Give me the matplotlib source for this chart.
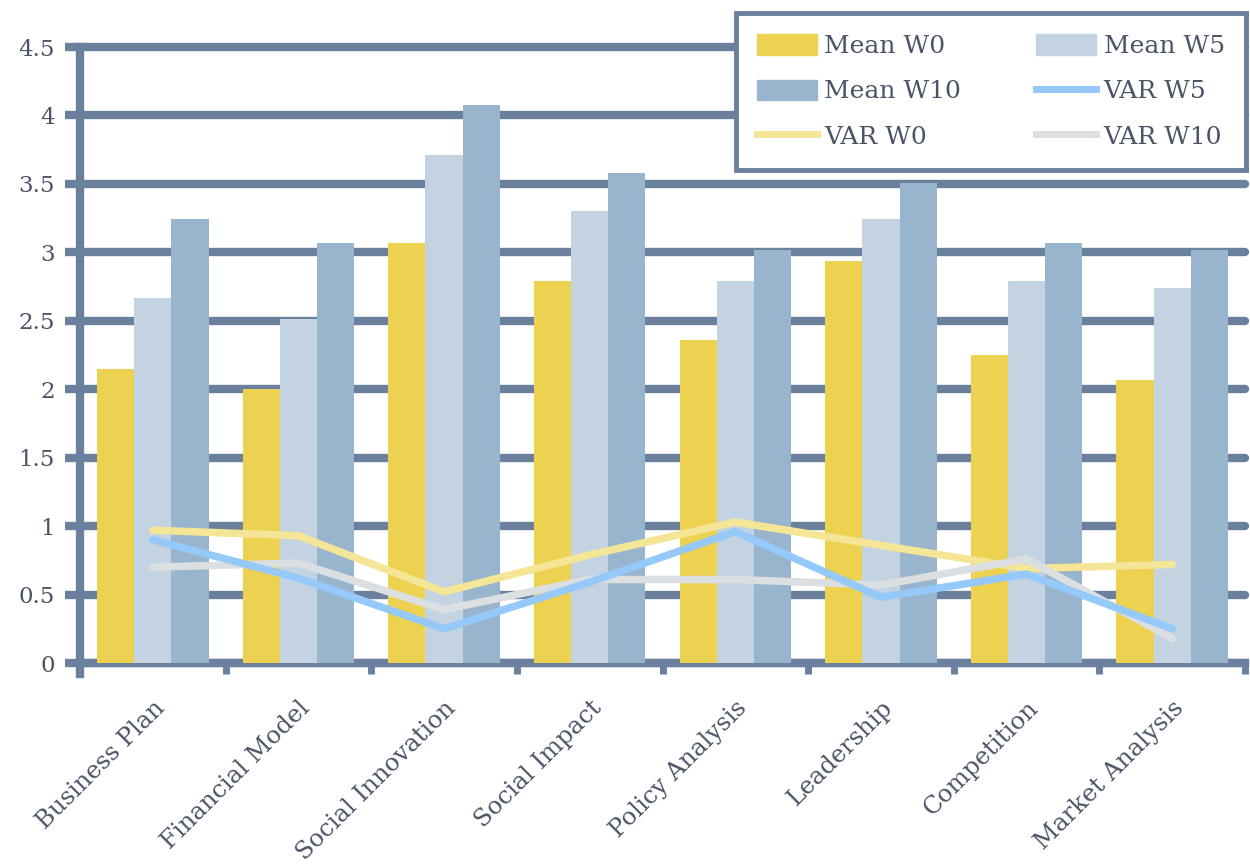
import matplotlib
matplotlib.use("Agg")
import matplotlib.pyplot as plt
import numpy as np
from matplotlib.patches import Patch
from matplotlib.lines import Line2D

# ====== Data ======
categories = [
    "Business Plan", "Financial Model", "Social Innovation", "Social Impact",
    "Policy Analysis", "Leadership", "Competition", "Market Analysis",
]
mean_w0 = [2.15, 2.00, 3.07, 2.79, 2.36, 2.94, 2.25, 2.07]
mean_w5 = [2.67, 2.51, 3.71, 3.30, 2.79, 3.24, 2.79, 2.74]
mean_w10 = [3.24, 3.07, 4.08, 3.58, 3.02, 3.51, 3.07, 3.02]
var_w0 = [0.97, 0.93, 0.52, 0.79, 1.03, 0.86, 0.69, 0.72]
var_w5 = [0.90, 0.62, 0.25, 0.59, 0.96, 0.48, 0.65, 0.25]
var_w10 = [0.70, 0.73, 0.39, 0.61, 0.61, 0.57, 0.76, 0.18]
y_ticks = [0, 0.5, 1, 1.5, 2, 2.5, 3, 3.5, 4, 4.5]

# ====== Style ======
AXIS_COLOR = "#6A809D"
TEXT_COLOR = "#4A5466"
C_W0, C_W5, C_W10 = "#EDD251", "#C3D3E2", "#99B4CD"
L_W0, L_W5, L_W10 = "#F5E596", "#94C9FA", "#DCDFE2"
FONT = ["DejaVu Serif"]

plt.rcParams["font.family"] = FONT

fig = plt.figure(figsize=(12.5, 8.66), dpi=100)
ax = fig.add_axes([0.064, 0.2344, 0.932, 0.7113])

x = np.arange(len(categories))
width = 0.255

ax.bar(x - width, mean_w0, width, color=C_W0, zorder=3)
ax.bar(x, mean_w5, width, color=C_W5, zorder=3)
ax.bar(x + width, mean_w10, width, color=C_W10, zorder=3)

line_kw = dict(linewidth=5.4, solid_capstyle="round", solid_joinstyle="round", zorder=4)
ax.plot(x, var_w0, color=L_W0, **line_kw)
ax.plot(x, var_w10, color=L_W10, **line_kw)
ax.plot(x, var_w5, color=L_W5, **line_kw)

# axes limits and grid
ax.set_xlim(-0.5, len(categories) - 0.5)
ax.set_ylim(0, 4.5)
ax.set_yticks(y_ticks)
ax.set_yticklabels([f"{t:g}" for t in y_ticks])
ax.yaxis.grid(True, color=AXIS_COLOR, linewidth=6, solid_capstyle="round", zorder=1)
ax.set_axisbelow(True)
for gl in ax.get_ygridlines():
    gl.set_clip_on(False)

for side in ("top", "right"):
    ax.spines[side].set_visible(False)
for side in ("left", "bottom"):
    ax.spines[side].set_color(AXIS_COLOR)
    ax.spines[side].set_linewidth(6)
ax.spines["left"].set_bounds(-0.08, 4.5)

ax.tick_params(axis="y", length=11, width=6, color=AXIS_COLOR, pad=7,
               labelsize=16.5, labelcolor=TEXT_COLOR)

# category boundaries get tick marks, centres get the labels
ax.set_xticks(np.arange(len(categories) + 1) - 0.5)
ax.set_xticklabels([])
ax.set_xticks(x, minor=True)
ax.set_xticklabels(categories, minor=True, rotation=45, ha="right",
                   rotation_mode="anchor")
ax.tick_params(axis="x", which="major", length=8, width=5, color=AXIS_COLOR)
ax.tick_params(axis="x", which="minor", length=0, pad=24,
               labelsize=17.5, labelcolor=TEXT_COLOR)

# legend
handles = [
    Patch(color=C_W0, label="Mean W0"),
    Patch(color=C_W10, label="Mean W10"),
    Line2D([], [], color=L_W0, linewidth=5, label="VAR W0"),
    Patch(color=C_W5, label="Mean W5"),
    Line2D([], [], color=L_W5, linewidth=5, label="VAR W5"),
    Line2D([], [], color=L_W10, linewidth=5, label="VAR W10"),
]
leg = ax.legend(handles=handles, ncol=2, loc="upper right",
                bbox_to_anchor=(1246 / 1250, 1 - 13 / 866),
                bbox_transform=fig.transFigure, borderaxespad=0, fontsize=18,
                handlelength=2.4, handleheight=0.9, handletextpad=0.3,
                columnspacing=3.0, labelspacing=0.85, borderpad=0.85,
                fancybox=False, framealpha=1, edgecolor=AXIS_COLOR)
leg.get_frame().set_linewidth(3.5)
leg.set_zorder(10)
for t in leg.get_texts():
    t.set_color(TEXT_COLOR)

fig.savefig("out.png", dpi=100, facecolor="white")
